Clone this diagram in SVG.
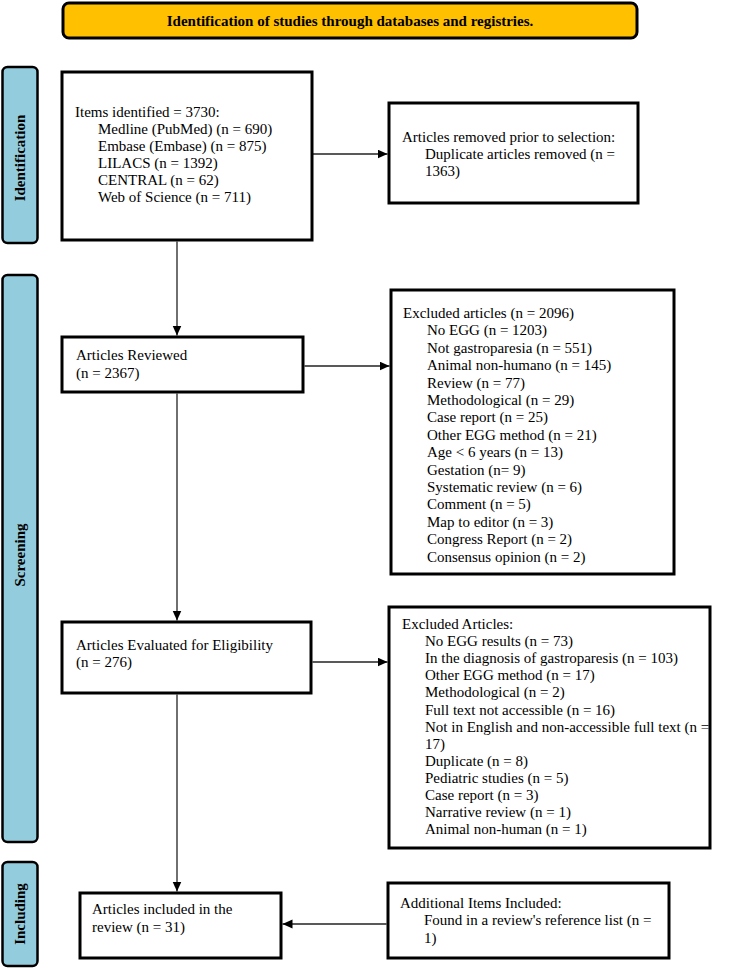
<svg xmlns="http://www.w3.org/2000/svg" width="738" height="968" viewBox="0 0 738 968">
<defs>
<marker id="ah" markerUnits="userSpaceOnUse" markerWidth="11" markerHeight="10" refX="10" refY="4.5" orient="auto">
<path d="M0,0 L10,4.5 L0,9 z" fill="#000"/>
</marker>
<style>
.box{fill:#fff;stroke:#000;stroke-width:3}
.bar{fill:#93CDDD;stroke:#000;stroke-width:2.5}
.hdr{fill:#FFC000;stroke:#000;stroke-width:3}
.t{font-family:"Liberation Serif","Times New Roman",serif;font-size:15px;fill:#000}
.b{font-family:"Liberation Serif","Times New Roman",serif;font-size:15px;font-weight:bold;fill:#000}
.c{fill:none;stroke:#222;stroke-width:1.3;marker-end:url(#ah)}
</style>
</defs>
<rect width="738" height="968" fill="#fff"/>

<g id="header">
<rect class="hdr" x="63" y="3" width="574" height="35" rx="6"/>
<text class="b" x="350" y="25.5" text-anchor="middle">Identification of studies through databases and registries.</text>
</g>

<g id="bar-identification">
<rect class="bar" x="2.5" y="67" width="35" height="176" rx="5"/>
<text class="b" transform="translate(20,158) rotate(-90)" text-anchor="middle" dominant-baseline="central">Identification</text>
</g>
<g id="bar-screening">
<rect class="bar" x="2.5" y="275" width="35" height="567" rx="5"/>
<text class="b" transform="translate(20,555) rotate(-90)" text-anchor="middle" dominant-baseline="central">Screening</text>
</g>
<g id="bar-including">
<rect class="bar" x="2.5" y="862" width="35" height="104" rx="5"/>
<text class="b" transform="translate(20,914) rotate(-90)" text-anchor="middle" dominant-baseline="central">Including</text>
</g>

<g id="connectors">
<path class="c" d="M312,154 H387.5"/>
<path class="c" d="M177,241.5 V335.5"/>
<path class="c" d="M304.5,366 H389.5"/>
<path class="c" d="M177,393.5 V620.5"/>
<path class="c" d="M312.5,662 H387.5"/>
<path class="c" d="M177,694.5 V891.5"/>
<path class="c" d="M386.5,924 H282.5"/>
</g>

<g id="identified">
<rect class="box" x="62" y="72" width="250" height="168"/>
<text class="t" x="75" y="117">Items identified = 3730:</text>
<text class="t" x="98" y="134">Medline (PubMed) (n = 690)</text>
<text class="t" x="98" y="151">Embase (Embase) (n = 875)</text>
<text class="t" x="98" y="168">LILACS  (n = 1392)</text>
<text class="t" x="98" y="185">CENTRAL  (n = 62)</text>
<text class="t" x="98" y="202">Web of Science (n = 711)</text>
</g>

<g id="removed">
<rect class="box" x="389" y="103" width="249" height="100"/>
<text class="t" x="402" y="142">Articles removed prior to selection:</text>
<text class="t" x="425" y="159">Duplicate articles removed (n =</text>
<text class="t" x="425" y="176">1363)</text>
</g>

<g id="reviewed">
<rect class="box" x="62" y="337" width="241" height="55"/>
<text class="t" x="76" y="360">Articles Reviewed</text>
<text class="t" x="76" y="378">(n = 2367)</text>
</g>

<g id="excluded1">
<rect class="box" x="391" y="290" width="283" height="284"/>
<text class="t" x="403" y="318">Excluded articles (n = 2096)</text>
<text class="t" x="427" y="335.4">No EGG (n = 1203)</text>
<text class="t" x="427" y="352.8">Not gastroparesia (n = 551)</text>
<text class="t" x="427" y="370.2">Animal non-humano  (n = 145)</text>
<text class="t" x="427" y="387.6">Review (n = 77)</text>
<text class="t" x="427" y="405">Methodological  (n = 29)</text>
<text class="t" x="427" y="422.4">Case report (n = 25)</text>
<text class="t" x="427" y="439.8">Other EGG method  (n = 21)</text>
<text class="t" x="427" y="457.2">Age &lt; 6 years (n = 13)</text>
<text class="t" x="427" y="474.6">Gestation  (n= 9)</text>
<text class="t" x="427" y="492">Systematic  review  (n = 6)</text>
<text class="t" x="427" y="509.4">Comment  (n = 5)</text>
<text class="t" x="427" y="526.8">Map to editor  (n = 3)</text>
<text class="t" x="427" y="544.2">Congress Report (n = 2)</text>
<text class="t" x="427" y="561.6">Consensus opinion  (n = 2)</text>
</g>

<g id="evaluated">
<rect class="box" x="62" y="622" width="249" height="71"/>
<text class="t" x="76" y="650">Articles Evaluated for Eligibility</text>
<text class="t" x="76" y="667">(n = 276)</text>
</g>

<g id="excluded2">
<rect class="box" x="389" y="607" width="321" height="241"/>
<text class="t" x="402" y="629">Excluded  Articles:</text>
<text class="t" x="425" y="646.1">No EGG results (n = 73)</text>
<text class="t" x="425" y="663.2">In the diagnosis  of gastroparesis  (n = 103)</text>
<text class="t" x="425" y="680.3">Other EGG method (n = 17)</text>
<text class="t" x="425" y="697.4">Methodological  (n = 2)</text>
<text class="t" x="425" y="714.5">Full  text  not  accessible  (n = 16)</text>
<text class="t" x="425" y="731.6">Not  in  English  and  non-accessible  full  text  (n =</text>
<text class="t" x="425" y="748.7">17)</text>
<text class="t" x="425" y="765.8">Duplicate  (n = 8)</text>
<text class="t" x="425" y="782.9">Pediatric  studies  (n = 5)</text>
<text class="t" x="425" y="800">Case report (n = 3)</text>
<text class="t" x="425" y="817.1">Narrative review  (n = 1)</text>
<text class="t" x="425" y="834.2">Animal  non-human  (n = 1)</text>
</g>

<g id="included">
<rect class="box" x="80" y="893" width="201" height="65"/>
<text class="t" x="92" y="914">Articles included in the</text>
<text class="t" x="92" y="932">review (n = 31)</text>
</g>

<g id="additional">
<rect class="box" x="388" y="883" width="281" height="75"/>
<text class="t" x="400" y="908">Additional  Items Included:</text>
<text class="t" x="424" y="925">Found in a review's reference list (n =</text>
<text class="t" x="424" y="943">1)</text>
</g>
</svg>
